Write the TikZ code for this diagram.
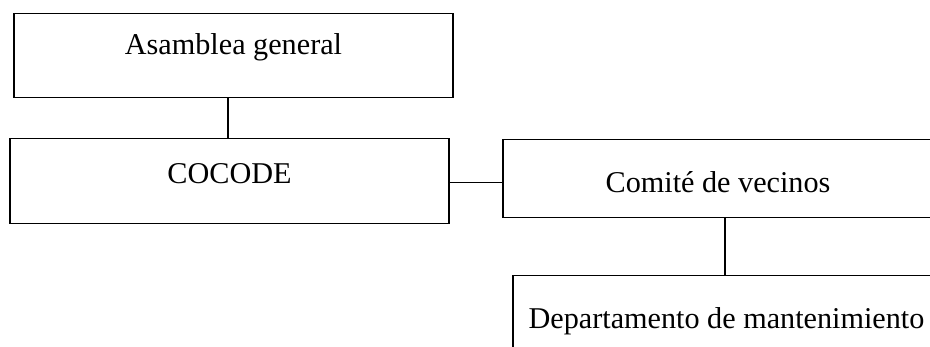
\documentclass[tikz,border=0pt]{standalone}
\usepackage{fontspec}
\setmainfont{Liberation Serif}

\tikzset{
  caja/.style={draw=black, line width=1.1pt, inner sep=0pt, anchor=north,
    font=\fontsize{30.2}{35}\selectfont},
}

\begin{document}
\begin{tikzpicture}[x=1pt, y=-1pt] %organigrama
            \useasboundingbox (0,0) rectangle (930,347);

            \node[caja, minimum width=439pt, text height=41pt, text depth=43pt] (asamblea) at (233.5,13) {Asamblea general};
            \node[caja, minimum width=439pt, text height=45pt, text depth=40pt] (cocode) at (229.5,138) {COCODE};
            \node[caja, minimum width=430pt, text height=53pt, text depth=25pt] (comite) at (718,139) {Comité de vecinos};
            \node[caja, minimum width=427pt, text height=53pt, text depth=60pt] (depto) at (726.5,275) {Departamento de mantenimiento};

            \draw[line width=1.1pt] ([xshift=-5.5pt]asamblea.south) -- ([xshift=-5.5pt]asamblea.south |- cocode.north);
            \draw[line width=1.1pt] ([yshift=-1.5pt]cocode.east) -- ([yshift=-1.5pt]cocode.east -| comite.west);
            \draw[line width=1.1pt] ([xshift=-1.5pt]depto.north) -- ([xshift=-1.5pt]depto.north |- comite.south);
        \end{tikzpicture}
\end{document}
